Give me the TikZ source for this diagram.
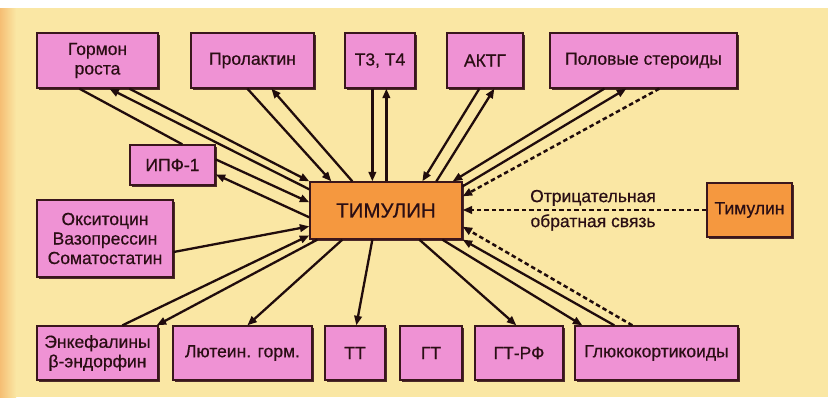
\documentclass[tikz,border=0pt]{standalone}
\usepackage{fontspec}
\setmainfont{Liberation Sans}[FakeBold=0.6]
\usetikzlibrary{arrows.meta,calc,shadows}
\definecolor{bgc}{HTML}{FAE7A4}
\definecolor{edgec}{HTML}{F5BE74}
\definecolor{pinkc}{HTML}{EF92D4}
\definecolor{orangec}{HTML}{F5983F}
\definecolor{bordc}{HTML}{3A161C}
\definecolor{textc}{HTML}{2A0E14}
\definecolor{linec}{HTML}{200C0C}
\begin{document}
\begin{tikzpicture}[x=1pt,y=-1pt,
  box/.style={draw=bordc, line width=1.3pt, fill=pinkc, inner sep=0pt, text=textc, align=center,
    font=\fontsize{17.5}{19.5}\selectfont,
    drop shadow={shadow xshift=1.8pt,shadow yshift=-1.8pt,fill=bordc,opacity=0.9}},
  obox/.style={box, fill=orangec},
  con/.style={line width=2.3pt, draw=linec, -{Triangle[length=9.5pt,width=7.5pt]}},
  plainline/.style={line width=2.3pt, draw=linec},
  dsh/.style={con, line width=2.5pt, dash pattern=on 4.5pt off 3pt},
  lbl/.style={text=textc, font=\fontsize{17.5}{19.5}\selectfont, inner sep=1pt}]
\useasboundingbox (0,0) rectangle (839,407);
\fill[white] (0,0) rectangle (839,407);
\fill[bgc] (0,8) rectangle (828,397);
\shade[left color=edgec, right color=bgc] (0,8) rectangle (16,397);

% top row
\node[box, minimum width=121pt, minimum height=55pt] (gr) at (97.5,60.5) {Гормон\\роста};
\node[box, minimum width=123pt, minimum height=55pt] (prl) at (252.5,60.5) {Пролактин};
\node[box, minimum width=70pt, minimum height=55pt] (t34) at (380,60.5) {Т3, Т4};
\node[box, minimum width=76pt, minimum height=55pt] (aktg) at (485,60.5) {АКТГ};
\node[box, minimum width=187pt, minimum height=55pt] (pol) at (643.5,60.5) {Половые стероиды};
% middle
\node[box, minimum width=85pt, minimum height=40pt] (ipf) at (172.5,165) {ИПФ-1};
\node[box, minimum width=136pt, minimum height=77pt] (oks) at (105,238.5) {Окситоцин\\Вазопрессин\\Соматостатин};
\node[obox, minimum width=152pt, minimum height=57pt, font=\fontsize{20.5}{24}\selectfont] (tim) at (386,210.5) {ТИМУЛИН};
\node[obox, minimum width=85pt, minimum height=54pt] (tim2) at (749.5,210) {Тимулин};
% bottom row
\node[box, minimum width=121pt, minimum height=54pt] (enk) at (97.5,353) {Энкефалины\\β-эндорфин};
\node[box, minimum width=139pt, minimum height=54pt] (lut) at (242.5,353) {Лютеин. горм.};
\node[box, minimum width=60pt, minimum height=54pt] (tt) at (355,353) {ТТ};
\node[box, minimum width=62pt, minimum height=54pt] (gt) at (431,353) {ГТ};
\node[box, minimum width=88pt, minimum height=54pt] (gtrf) at (519,353) {ГТ-РФ};
\node[box, minimum width=163pt, minimum height=54pt] (glu) at (656.5,353) {Глюкокортикоиды};

% Гормон роста
\draw[plainline] ($(gr.south west)+(43,0)$) -- ($(ipf.north west)+(53,0)$);
\draw[con] ($(tim.north west)+(0,8)$) -- ($(gr.south west)+(73,0)$);
\draw[con] ($(gr.south west)+(93,0)$) -- (tim.north west);
% ИПФ-1
\draw[con] ($(ipf.north east)+(0,15)$) -- ($(tim.north west)+(0,21)$);
\draw[con] ($(tim.north west)+(0,36)$) -- ($(ipf.north east)+(0,30)$);
% Окситоцин
\draw[con] ($(oks.east)+(0,13.5)$) -- ($(tim.north west)+(0,45)$);
% Энкефалины
\draw[con] ($(enk.north west)+(86,0)$) -- ($(tim.north west)+(0,54)$);
\draw[con] ($(tim.south west)+(8,0)$) -- ($(enk.north east)+(-2,0)$);
% Пролактин
\draw[con] ($(prl.south west)+(57,0)$) -- ($(tim.north west)+(22,0)$);
\draw[con] ($(tim.north west)+(43,0)$) -- ($(prl.south west)+(81,0)$);
% Т3, Т4
\draw[con] ($(t34.south west)+(28,0)$) -- ($(tim.north west)+(63,0)$);
\draw[con] ($(tim.north west)+(77,0)$) -- ($(t34.south west)+(42,0)$);
% АКТГ
\draw[con] ($(aktg.south west)+(33,0)$) -- ($(tim.north west)+(113,0)$);
\draw[con] ($(tim.north west)+(127,0)$) -- ($(aktg.south west)+(48,0)$);
% Половые стероиды
\draw[con] ($(pol.south west)+(55,0)$) -- ($(tim.north east)+(-10,0)$);
\draw[con] ($(tim.north east)+(0,5)$) -- ($(pol.south west)+(77,0)$);
\draw[dsh] ($(pol.south west)+(110,0)$) -- ($(tim.north east)+(0,15)$);
% Тимулин (обратная связь)
\draw[dsh] (tim2.west) -- (tim2.west -| tim.east)
  node[lbl, pos=0.465, above=2pt] (neg1) {Отрицательная}
  node[lbl, pos=0.465, below=2pt] (neg2) {обратная связь};
% Глюкокортикоиды
\draw[dsh] ($(glu.north west)+(58,0)$) -- ($(tim.south east)+(0,-13)$);
\draw[con] ($(glu.north west)+(40,0)$) -- (tim.south east);
\draw[con] ($(tim.south west)+(133,0)$) -- ($(glu.north west)+(8,0)$);
% bottom targets
\draw[con] ($(tim.south west)+(110,0)$) -- ($(gtrf.north west)+(42,0)$);
\draw[con] ($(tim.south west)+(63,0)$) -- ($(tt.north west)+(32,0)$);
\draw[con] ($(tim.south west)+(33,0)$) -- ($(lut.north west)+(75,0)$);
\end{tikzpicture}
\end{document}
